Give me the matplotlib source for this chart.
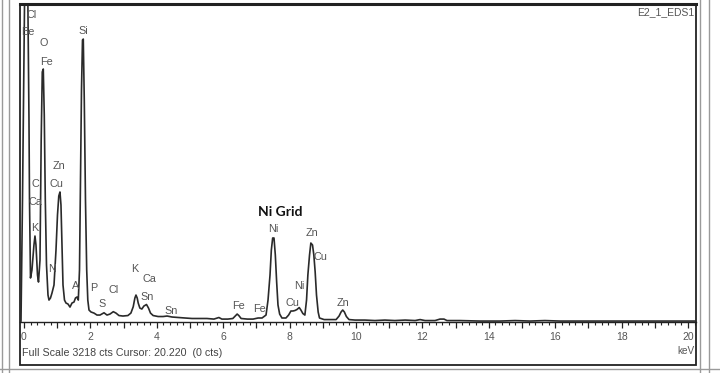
import matplotlib.pyplot as plt
from matplotlib.lines import Line2D
from matplotlib.patches import Rectangle
from matplotlib.ticker import MultipleLocator, FuncFormatter

# -----------------------------
# Spectrum trace (energy in keV, counts)
# -----------------------------
energy = [-0.09, -0.045, 0.03, 0.105, 0.15, 0.166, 0.196,
          0.24, 0.30, 0.331, 0.361, 0.407, 0.437,
          0.482, 0.518, 0.551, 0.581, 0.611, 0.642, 0.678, 0.723, 0.753,
          0.798, 0.843, 0.904, 0.964, 1.009, 1.048, 1.084, 1.114, 1.145,
          1.175, 1.22, 1.265, 1.325, 1.386, 1.446, 1.506, 1.551, 1.596, 1.636,
          1.672, 1.702, 1.732, 1.762, 1.786, 1.816, 1.852, 1.889, 1.922, 1.958,
          2.018, 2.108, 2.199, 2.289, 2.41, 2.5, 2.59, 2.69, 2.77, 2.86, 2.98,
          3.13, 3.22, 3.29, 3.34, 3.373, 3.41, 3.44, 3.49, 3.55, 3.61, 3.69,
          3.75, 3.81, 3.89, 4.04, 4.19, 4.31, 4.46, 4.64, 4.85, 5.06, 5.30,
          5.51, 5.72, 5.87, 5.96, 6.14, 6.29, 6.39, 6.42, 6.47, 6.54, 6.73,
          6.90, 7.05, 7.17,
          7.29, 7.35, 7.41, 7.45, 7.49, 7.53, 7.57, 7.61, 7.65, 7.70, 7.77,
          7.89, 7.97, 8.04, 8.10, 8.16, 8.22, 8.29, 8.34, 8.40, 8.46,
          8.51, 8.55, 8.60, 8.64, 8.69, 8.73, 8.77, 8.81, 8.86, 8.90, 9.04,
          9.22, 9.40, 9.49, 9.55, 9.60, 9.65, 9.71, 9.79, 9.97, 10.27, 10.57,
          10.87, 11.17, 11.48, 11.78, 11.93, 12.08, 12.38, 12.53, 12.65, 12.74,
          13.13, 13.73, 14.34, 14.79, 15.24, 15.69, 16.14, 16.75, 17.35, 17.95,
          18.55, 19.16, 19.76, 20.24]
counts = [10, 1238, 3675, 3675, 2071, 1238, 447,
          528, 782, 873, 782, 477, 406,
          629, 1847, 2538, 2568, 2101, 1238, 579, 274, 223,
          244, 294, 376, 731, 1086, 1279, 1320, 1188, 782,
          376, 223, 193, 183, 152, 193, 203, 244, 254, 223,
          528, 1441, 2355, 2862, 2872, 2253, 1238, 528, 223, 122,
          102, 91, 71, 71, 94, 71, 81, 105, 91, 66, 61,
          66, 91, 155, 244, 274, 244, 193, 142, 132, 162, 178,
          142, 91, 66, 56, 56, 61, 51, 46, 41, 36, 36,
          36, 30, 46, 30, 30, 36, 71, 81, 66, 36, 30,
          30, 41, 41,
          71, 223, 477, 731, 853, 853, 680, 406, 173, 81, 41,
          41, 71, 112, 112, 117, 127, 147, 122, 86, 71,
          223, 477, 680, 802, 782, 680, 508, 274, 102, 41, 25,
          25, 25, 61, 102, 122, 102, 56, 25, 20, 20, 15,
          20, 15, 20, 15, 25, 15, 15, 30, 30, 15,
          15, 10, 10, 15, 10, 15, 10, 10, 10, 10,
          10, 10, 10, 10]

# -----------------------------
# Peak labels (text, keV, counts)
# -----------------------------
peak_names = ['Cl', 'Be', 'O', 'Fe', 'Si', 'Zn', 'Cu', 'C', 'Ca', 'K',
              'N', 'A', 'P', 'S', 'Cl', 'K', 'Ca', 'Sn', 'Sn',
              'Fe', 'Fe', 'Ni', 'Zn', 'Cu', 'Ni', 'Cu', 'Zn']
peak_kev = [0.23, 0.13, 0.58, 0.68, 1.79, 1.06, 0.98, 0.33, 0.35, 0.33,
            0.85, 1.54, 2.09, 2.36, 2.69, 3.34, 3.77, 3.71, 4.42,
            6.45, 7.09, 7.51, 8.67, 8.92, 8.29, 8.09, 9.60]
peak_cts = [3116, 2940, 2829, 2642, 2957, 1586, 1401, 1401, 1221, 951,
            538, 368, 342, 183, 325, 538, 436, 257, 115,
            162, 129, 941, 900, 657, 365, 190, 196]

full_scale = 3218
cursor_kev = 20.220

# -----------------------------
# Figure and axes
# -----------------------------
fig = plt.figure(figsize=(7.2, 3.73), dpi=100)
ax = fig.add_axes([20 / 720, 1 - 365 / 373, 676 / 720, 361 / 373])

ax.plot(energy, counts, color='#2a2a2a', linewidth=1.2)
ax.set_xlim(-0.12, 20.24)
ax.set_ylim(-436, 3228)

# bottom spine sits on the zero-count line, frame drawn separately
for side in ['left', 'right', 'top']:
    ax.spines[side].set_visible(False)
ax.spines['bottom'].set_position(('data', 0))
ax.spines['bottom'].set_color('#222222')
ax.spines['bottom'].set_linewidth(1.0)
ax.add_patch(Rectangle((0, 0), 1, 1, transform=ax.transAxes, fill=False,
                       edgecolor='#222222', linewidth=1.3, clip_on=False))
ax.plot([0, 1], [1, 1], transform=ax.transAxes, color='#222222',
        linewidth=2.2, clip_on=False)

ax.set_yticks([])
ax.xaxis.set_major_locator(MultipleLocator(1))
ax.xaxis.set_minor_locator(MultipleLocator(0.2))
ax.xaxis.set_major_formatter(FuncFormatter(
    lambda v, p: '%d' % v if round(v) % 2 == 0 else ''))
ax.tick_params(axis='x', which='major', direction='out', length=4,
               width=0.9, color='#222222', pad=3,
               labelsize=7.5, labelcolor='#555555')
ax.tick_params(axis='x', which='minor', direction='out', length=2.5,
               width=0.8, color='#222222')
for lab in ax.get_xticklabels():
    lab.set_family('Liberation Sans')

# -----------------------------
# Peak labels
# -----------------------------
for name, e, c in zip(peak_names, peak_kev, peak_cts):
    ax.text(e, c, name, ha='center', va='center', fontsize=7.8,
            color='#555555', family='Liberation Sans')

ax.text(7.73, 1120, 'Ni Grid', ha='center', va='center', fontsize=10,
        fontweight='bold', color='#111111', family='Lato')

# -----------------------------
# Header / footer texts
# -----------------------------
fig.text(694 / 720, 1 - 12 / 373, 'E2_1_EDS1', ha='right', va='center',
         fontsize=7.5, color='#555555', family='Liberation Sans')
fig.text(22 / 720, 1 - 353 / 373,
         'Full Scale %d cts Cursor: %.3f  (0 cts)' % (full_scale, cursor_kev),
         ha='left', va='center', fontsize=7.7, color='#444444',
         family='Liberation Sans')
fig.text(695 / 720, 1 - 351 / 373, 'keV', ha='right', va='center',
         fontsize=7.2, color='#555555', family='Liberation Sans')

# -----------------------------
# Outer gray window borders
# -----------------------------
W, H = 720, 373
for x in [1.5, 8.5, 699.5, 708.5]:
    fig.add_artist(Line2D([x / W, x / W], [0, 1], color='#9a9a9a',
                          linewidth=1.0))
fig.add_artist(Line2D([0, 1], [1 - 369 / H, 1 - 369 / H], color='#9a9a9a',
                      linewidth=1.0))

fig.savefig('out.png', dpi=100)
